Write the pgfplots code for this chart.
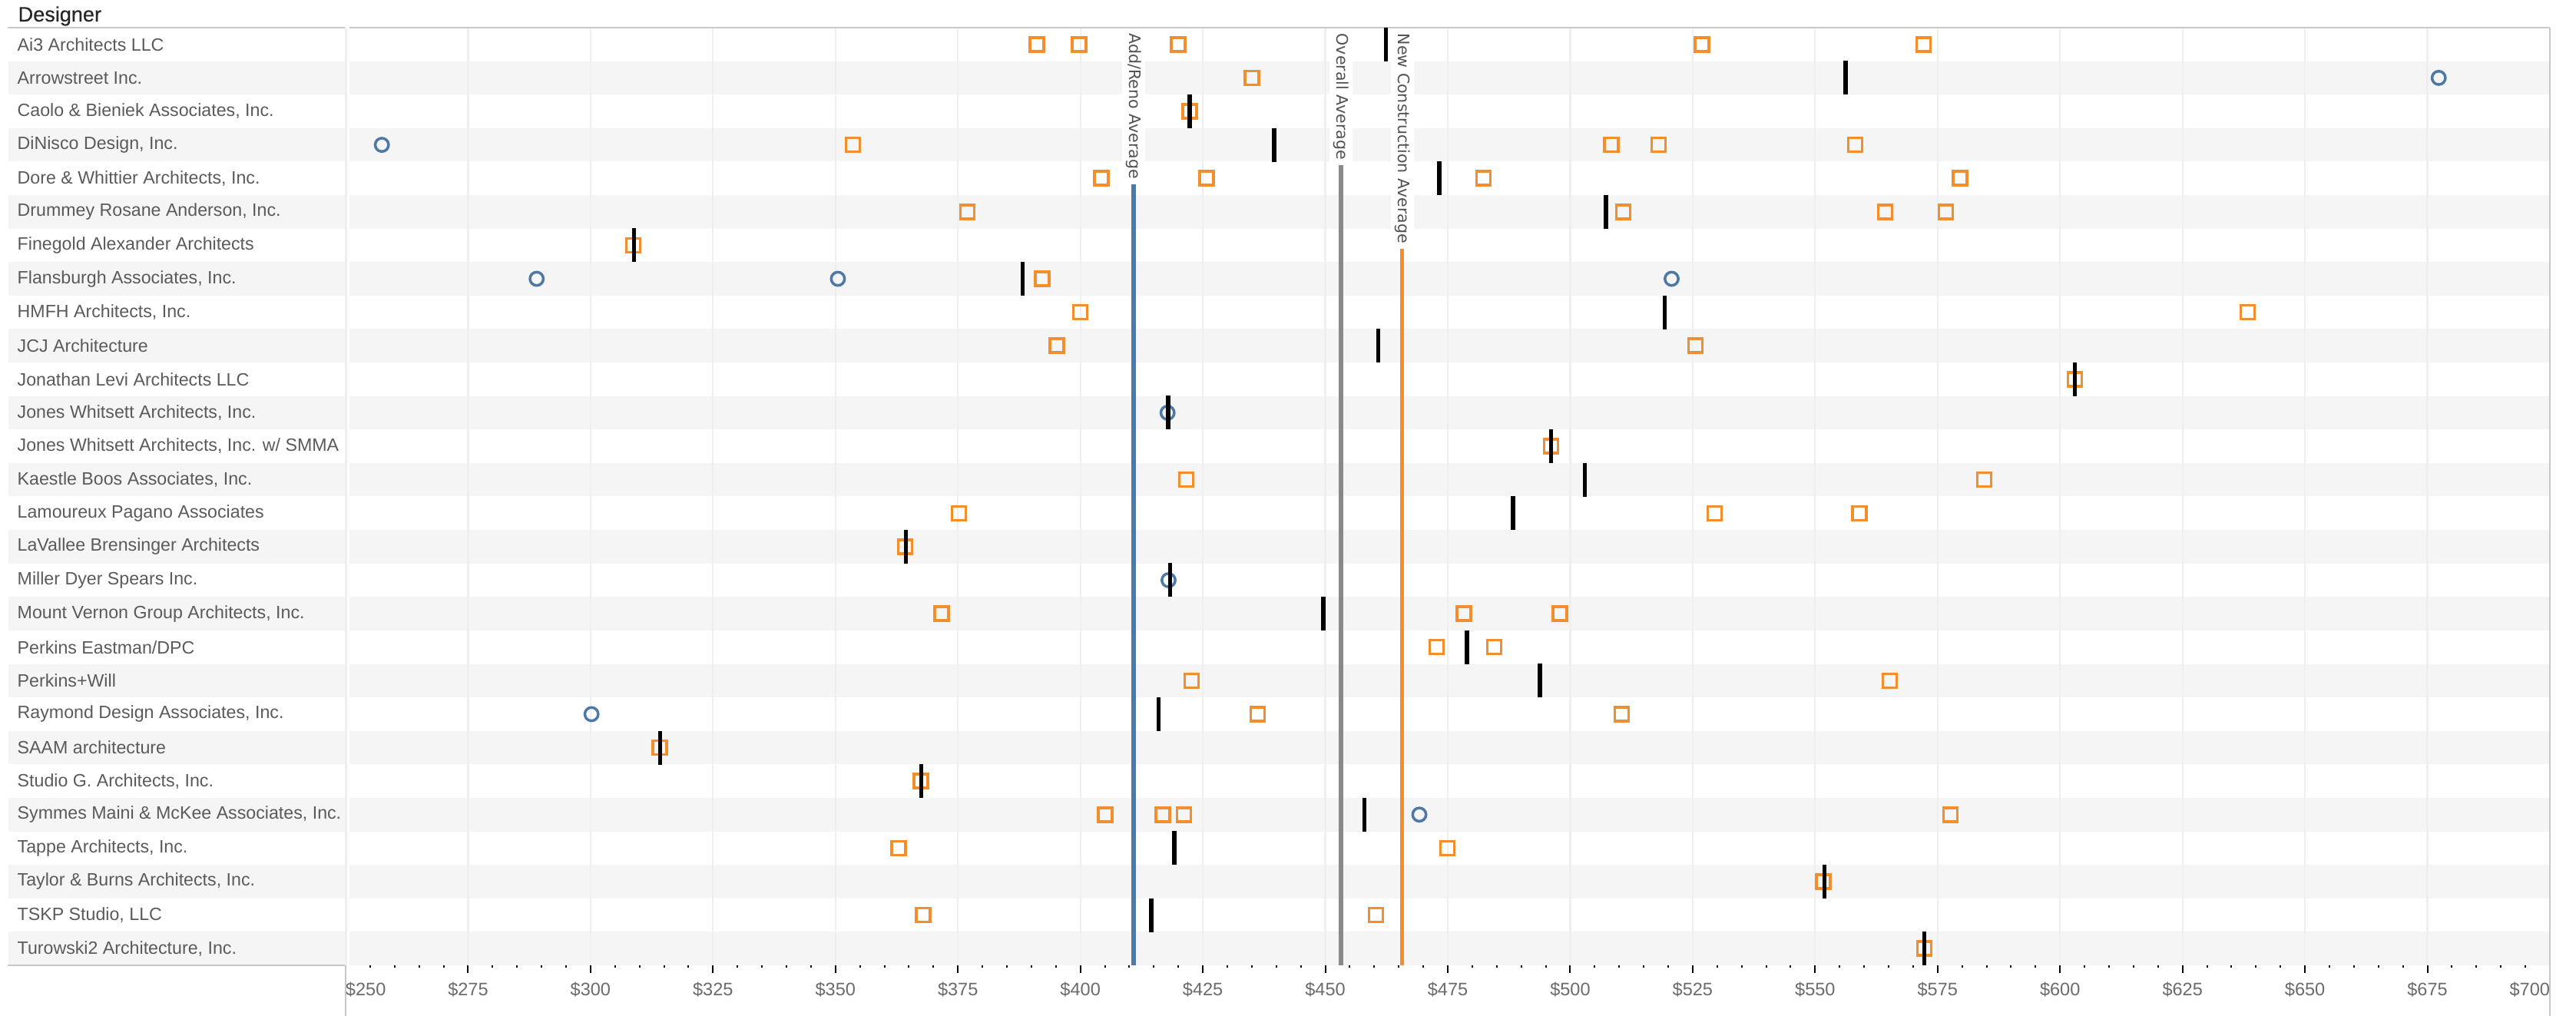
\documentclass[border=0pt]{standalone}
\usepackage{fontspec}
\setmainfont{Liberation Sans}
\newfontfamily\reffont{DejaVu Sans}
\newfontfamily\headfont[FakeBold=0.35]{Liberation Sans}
\usepackage{pgfplots}
\usepackage{pgfplotstable}
\pgfplotsset{compat=1.18}

\definecolor{tabblue}{HTML}{4E79A7}
\definecolor{taborange}{HTML}{F28E2B}
\definecolor{refgray}{HTML}{898989}
\definecolor{band}{HTML}{F5F5F5}
\definecolor{gridc}{HTML}{EFEFEF}
\definecolor{labc}{HTML}{5A5A5A}
\definecolor{rulec}{HTML}{C8C8C8}
\newcommand\labfont{\fontsize{6.6}{7.5}\selectfont}

% new construction projects (orange squares): value, row
\pgfplotstableread{
x y
391.1 1
399.7 1
420.0 1
526.9 1
572.1 1
435.0 2
422.3 3
353.6 4
508.4 4
518.0 4
558.2 4
404.3 5
425.8 5
482.3 5
579.6 5
376.9 6
510.8 6
564.3 6
576.7 6
308.7 7
392.2 8
400.0 9
638.3 9
395.2 10
525.6 10
603.0 11
496.1 13
421.6 14
584.5 14
375.2 15
529.5 15
559.0 15
364.2 16
371.7 18
478.3 18
497.9 18
472.7 19
484.5 19
422.7 20
565.2 20
436.2 21
510.5 21
314.1 22
367.4 23
405.1 24
416.8 24
421.1 24
577.6 24
362.9 25
474.9 25
551.7 26
367.9 27
460.3 27
572.3 28
}\newconstr

% additions / renovations (blue circles)
\pgfplotstableread{
x y
677.3 2
257.4 4
289.0 8
350.5 8
520.7 8
417.8 12
418.0 17
300.2 21
469.2 24
}\addreno

% designer averages (black ticks)
\pgfplotstableread{
x y
462.4 1
556.2 2
422.3 3
439.6 4
473.3 5
507.3 6
308.9 7
388.2 8
519.3 9
460.8 10
603.0 11
417.9 12
496.1 13
503.0 14
488.3 15
364.4 16
418.3 17
449.6 18
478.9 19
493.8 20
416.0 21
314.2 22
367.5 23
458.0 24
419.2 25
551.9 26
414.5 27
572.3 28
}\designavg

\begin{document}
\begin{tikzpicture}
\begin{axis}[
    set layers,
    width=287mm, height=122.1mm, scale only axis,
    xmin=250, xmax=700, ymin=0.5, ymax=28.5,
    y dir=reverse,
    clip=false,
    axis line style={draw=none},
    xtick={250,275,...,700},
    xticklabels={\makebox[0pt][l]{\$250},\$275,\$300,\$325,\$350,\$375,\$400,\$425,\$450,\$475,\$500,\$525,\$550,\$575,\$600,\$625,\$650,\$675,\makebox[0pt][r]{\$700}},
    minor x tick num=4,
    xtick pos=bottom,
    tick align=outside,
    major tick length=1mm,
    minor tick length=0.35mm,
    x tick style={black, line width=0.2mm},
    xmajorgrids,
    major grid style={gridc, line width=0.22mm},
    xticklabel style={font=\fontsize{6.7}{7.5}\selectfont, text=labc!90},
    ytick={1,...,28},
    y tick style={draw=none},
    yticklabels={Ai3 Architects LLC, Arrowstreet Inc., {Caolo \& Bieniek Associates, Inc.}, {DiNisco Design, Inc.}, {Dore \& Whittier Architects, Inc.}, {Drummey Rosane Anderson, Inc.}, Finegold Alexander Architects, {Flansburgh Associates, Inc.}, {HMFH Architects, Inc.}, JCJ Architecture, Jonathan Levi Architects LLC, {Jones Whitsett Architects, Inc.}, {Jones Whitsett Architects, Inc. w/ SMMA}, {Kaestle Boos Associates, Inc.}, Lamoureux Pagano Associates, LaVallee Brensinger Architects, Miller Dyer Spears Inc., {Mount Vernon Group Architects, Inc.}, Perkins Eastman/DPC, Perkins+Will, {Raymond Design Associates, Inc.}, SAAM architecture, {Studio G. Architects, Inc.}, {Symmes Maini \& McKee Associates, Inc.}, {Tappe Architects, Inc.}, {Taylor \& Burns Architects, Inc.}, {TSKP Studio, LLC}, {Turowski2 Architecture, Inc.}},
    yticklabel style={anchor=west, xshift=-41.8mm, inner sep=0pt, font=\labfont, text=labc},
]
% row banding
\begin{pgfonlayer}{axis background}
\pgfplotsinvokeforeach{2,4,...,28}{
  \fill[band] (axis cs:181.17,#1-0.5) rectangle (axis cs:249.84,#1+0.5);
  \fill[band] (axis cs:250.78,#1-0.5) rectangle (axis cs:700,#1+0.5);
}
\draw[gridc, line width=0.2mm] (axis cs:250.1,0.5) -- (axis cs:250.1,28.5);
\end{pgfonlayer}

% reference lines
\addplot[tabblue, line width=0.6mm] coordinates {(410.9,0.5) (410.9,28.5)};
\addplot[refgray, line width=0.6mm] coordinates {(453.2,0.5) (453.2,28.5)};
\addplot[taborange, line width=0.55mm] coordinates {(465.7,0.5) (465.7,28.5)};
\begin{scope}[every node/.style={rotate=-90, anchor=west, fill=white, inner xsep=0.7mm, inner ysep=0.5mm, text=black!68, font=\reffont\fontsize{5.85}{7}\selectfont}]
\node at (axis cs:410.9,0.5) {Add/Reno Average};
\node at (axis cs:453.2,0.5) {Overall Average};
\node at (axis cs:465.7,0.5) {New Construction Average};
\end{scope}

% projects and designer averages
\addplot[only marks, mark=square, mark size=0.9mm, mark options={draw=taborange, fill=none, line width=0.35mm}] table[x=x, y=y] {\newconstr};
\addplot[only marks, mark=o, mark size=0.87mm, mark options={draw=tabblue, fill=none, line width=0.35mm}] table[x=x, y=y] {\addreno};
\addplot[only marks, mark=|, mark size=2.2mm, mark options={draw=black, line width=0.55mm}] table[x=x, y=y] {\designavg};

% header and frame
\node[anchor=base west, inner sep=0pt, yshift=0.8mm, text=black!85, font=\headfont\fontsize{7.7}{8}\selectfont] at (axis cs:183.05,0.5) {Designer};
\draw[rulec, line width=0.25mm] (axis cs:181.01,0.5) -- (axis cs:249.84,0.5);
\draw[rulec, line width=0.2mm] (axis cs:250.78,0.5) -- (axis cs:700,0.5);
\draw[rulec, line width=0.2mm] (axis cs:181.01,28.5) -- (axis cs:249.84,28.5);
\draw[rulec, line width=0.2mm] (axis cs:700,0.5) -- ([yshift=-6.6mm]axis cs:700,28.5);
\draw[rulec, line width=0.2mm] (axis cs:250,28.5) -- ([yshift=-6.6mm]axis cs:250,28.5);
\end{axis}
\pgfresetboundingbox
\path (current axis.south west) ++(-45mm,-6.6mm) coordinate (bl);
\path (current axis.north east) ++(3.4mm,3.6mm) coordinate (tr);
\path[use as bounding box] (bl) rectangle (tr);
\end{tikzpicture}
\end{document}
